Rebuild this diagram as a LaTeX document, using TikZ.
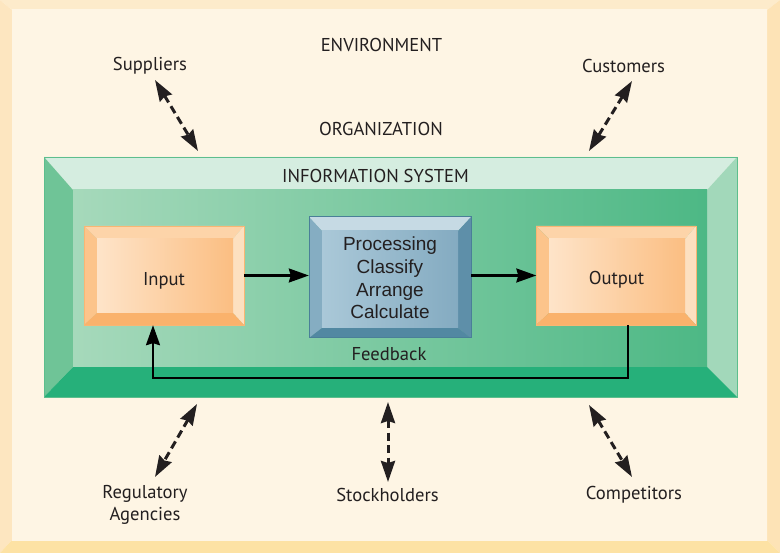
\documentclass[tikz,border=0pt]{standalone}
\usepackage{fontspec}
\setmainfont{PT Sans}
\newfontfamily\arialf{Liberation Sans}
\usetikzlibrary{arrows.meta}
% frame
\definecolor{frT}{HTML}{FDEBCB}
\definecolor{frL}{HTML}{FDE6C0}
\definecolor{frR}{HTML}{FDE3B6}
\definecolor{frB}{HTML}{FDE2A4}
\definecolor{frF1}{HTML}{FEF5E4}
\definecolor{frF2}{HTML}{FEF5E4}
% green
\definecolor{gT}{HTML}{D5EDE0}
\definecolor{gL}{HTML}{6FC497}
\definecolor{gR}{HTML}{A2D8BA}
\definecolor{gB}{HTML}{26B07A}
\definecolor{gF1}{HTML}{A6D9BB}
\definecolor{gF2}{HTML}{4DB885}
\definecolor{gE}{HTML}{5DBE8D}
% orange
\definecolor{oT}{HTML}{FDD4A9}
\definecolor{oL}{HTML}{FCC48B}
\definecolor{oR}{HTML}{FDE0C0}
\definecolor{oB}{HTML}{FAB26C}
\definecolor{oF1}{HTML}{FEE4C9}
\definecolor{oF2}{HTML}{FBBE82}
\definecolor{oE}{HTML}{F9B673}
% blue
\definecolor{bT}{HTML}{C6DAE4}
\definecolor{bL}{HTML}{85ADC2}
\definecolor{bR}{HTML}{5E8FA9}
\definecolor{bB}{HTML}{5288A2}
\definecolor{bF1}{HTML}{AAC8D8}
\definecolor{bF2}{HTML}{84ABC1}
\definecolor{bE}{HTML}{4A7F98}
\definecolor{ink}{HTML}{231F20}
% bevelled rectangle: prefix, x1,y1,x2,y2, inset left,top,right,bottom
\newcommand\mybevel[9]{%
 \fill[#1T] (#2,#3) -- (#4,#3) -- ({#4-#8},{#3+#7}) -- ({#2+#6},{#3+#7}) -- cycle;
 \fill[#1L] (#2,#3) -- ({#2+#6},{#3+#7}) -- ({#2+#6},{#5-#9}) -- (#2,#5) -- cycle;
 \fill[#1R] (#4,#3) -- (#4,#5) -- ({#4-#8},{#5-#9}) -- ({#4-#8},{#3+#7}) -- cycle;
 \fill[#1B] (#2,#5) -- (#4,#5) -- ({#4-#8},{#5-#9}) -- ({#2+#6},{#5-#9}) -- cycle;
 \shade[left color=#1F1, right color=#1F2] ({#2+#6},{#3+#7}) rectangle ({#4-#8},{#5-#9});
}
\begin{document}
\begin{tikzpicture}[x=1pt,y=-1pt,
  lbl/.style={text=ink, font=\fontsize{18.6}{22}\selectfont, inner sep=0pt, align=center},
  boxnode/.style={inner sep=0pt, text=ink, font=\fontsize{18.6}{22}\selectfont},
  flow/.style={draw=black, line width=2.2pt, -{Stealth[length=20pt,width=14pt,inset=2pt]}},
  dbl/.style={draw=ink, line width=3pt, dash pattern=on 8pt off 4.5pt,
    {Stealth[length=21pt,width=14pt,inset=2pt]}-{Stealth[length=21pt,width=14pt,inset=2pt]}}
]
\useasboundingbox (0,0) rectangle (780,553);
% page frame
\mybevel{fr}{0}{0}{780}{553}{12}{10}{13}{13}
% information system frame
\mybevel{g}{44}{157}{737}{397}{29}{33}{30}{30}
\draw[gE, line width=0.8pt] (44,157) rectangle (737,397);
% boxes
\mybevel{o}{84}{226}{244}{325}{13}{13}{11}{12}
\draw[oE, line width=0.8pt] (84,226) rectangle (244,325);
\mybevel{o}{536}{226}{696}{325}{13}{13}{11}{12}
\draw[oE, line width=0.8pt] (536,226) rectangle (696,325);
\mybevel{b}{309}{217}{471}{338}{13}{14}{13}{10}
\draw[bE, line width=1pt] (309,217) rectangle (471,338);
% nodes
\node[boxnode, minimum width=160pt, minimum height=99pt] (input) at (164,275.5) {\raisebox{-10pt}[0pt][0pt]{Input}};
\node[boxnode, minimum width=160pt, minimum height=99pt] (output) at (616.5,275.5) {\raisebox{-9.5pt}[0pt][0pt]{Output}};
\node[boxnode, minimum width=162pt, minimum height=121pt, align=center,
      font=\arialf\fontsize{19}{22.7}\selectfont] (proc) at (390,278)
      {Processing\\Classify\\Arrange\\Calculate};
\node[lbl] (env) at (381.5,44.5) {ENVIRONMENT};
\node[lbl] (org) at (381,128.5) {ORGANIZATION};
\node[lbl] (is) at (375.5,175.5) {INFORMATION SYSTEM};
\node[lbl] (sup) at (150,65.5) {Suppliers};
\node[lbl] (cus) at (623.5,66) {Customers};
\node[lbl] (fb) at (389,354.5) {Feedback};
\node[lbl] (reg) at (145,505) {Regulatory\\Agencies};
\node[lbl] (stk) at (387.5,494.5) {Stockholders};
\node[lbl] (com) at (634,494.5) {Competitors};
% flow connectors
\draw[flow] (input.east) -- (input.east -| proc.west);
\draw[flow] (proc.east |- output.west) -- (output.west);
\coordinate (fbR) at (628,378);
\coordinate (fbL) at (153,378);
\draw[flow] (output.south -| fbR) -- (fbR) -- (fbL) -- (input.south -| fbL);
% environment connectors
\coordinate (supA) at (155,80);  \coordinate (supB) at (198,151);
\coordinate (cusA) at (632,81);  \coordinate (cusB) at (589,151);
\coordinate (regA) at (197,404); \coordinate (regB) at (155,477);
\coordinate (stkA) at (388,402); \coordinate (stkB) at (388,482);
\coordinate (comA) at (589,405); \coordinate (comB) at (632,477);
\draw[dbl] (supA) -- (supB);
\draw[dbl] (cusA) -- (cusB);
\draw[dbl] (regA) -- (regB);
\draw[dbl] (stkA) -- (stkB);
\draw[dbl] (comA) -- (comB);
\end{tikzpicture}
\end{document}
